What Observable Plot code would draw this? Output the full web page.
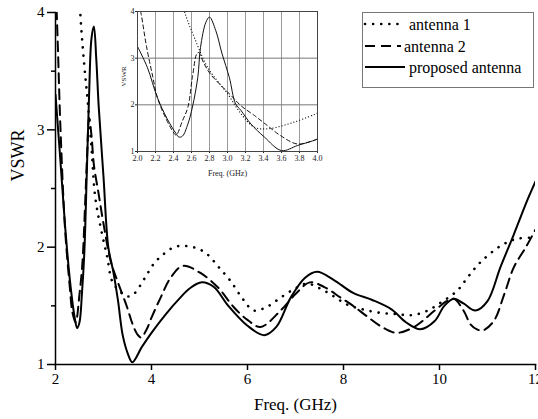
<!DOCTYPE html>
<html><head><meta charset="utf-8">
<script src="https://cdn.jsdelivr.net/npm/d3@7"></script>
<script src="https://cdn.jsdelivr.net/npm/@observablehq/plot@0.6"></script>
<style>
body{margin:0;background:#fff;}
#wrap{position:relative;width:538px;height:419px;font-family:"Liberation Serif","Times New Roman","DejaVu Serif",serif;}
#wrap > svg{position:absolute;left:0;top:0;}
#wrap svg, #wrap svg text{font-family:"Liberation Serif","Times New Roman","DejaVu Serif",serif !important;}
</style></head><body><div id="wrap"></div>
<script>
// ---- main chart data ----
const seriesNames = ["antenna 1", "antenna 2", "proposed antenna"];
const xTicks = [2, 4, 6, 8, 10, 12];
const yTicks = [1, 2, 3, 4];
const yMinorTicks = [1.5, 2.5, 3.5];

const ant1Freq = [2.45,2.52,2.6,2.67,2.75,2.83,2.95,3.08,3.18,3.35,3.5,3.63,3.85,4.05,4.25,4.47,4.7,4.95,5.16,5.4,5.65,5.9,6.13,6.4,6.69,7.0,7.24,7.5,7.8,8.08,8.4,8.77,9.1,9.4,9.7,10.0,10.37,10.6,10.85,11.27,11.6,12.0];
const ant1Vswr = [4.6,3.97,3.55,3.25,2.85,2.42,2.15,1.91,1.71,1.62,1.58,1.6,1.73,1.86,1.94,2.0,2.01,1.99,1.94,1.83,1.71,1.56,1.46,1.49,1.57,1.65,1.69,1.65,1.58,1.51,1.47,1.44,1.43,1.42,1.45,1.52,1.63,1.75,1.87,2.01,2.07,2.08];

const ant2Freq = [2.0,2.05,2.1,2.2,2.3,2.35,2.42,2.5,2.56,2.62,2.66,2.7,2.75,2.8,2.9,3.0,3.15,3.3,3.49,3.6,3.7,3.78,3.9,4.0,4.19,4.4,4.65,5.02,5.4,5.71,6.0,6.27,6.69,7.0,7.3,7.6,7.94,8.2,8.49,8.8,9.1,9.47,9.9,10.15,10.3,10.5,10.65,10.78,10.9,11.13,11.35,11.55,11.8,12.0];
const ant2Vswr = [4.3,3.7,3.05,2.15,1.65,1.45,1.36,1.6,1.86,2.4,2.8,3.1,2.95,2.7,2.45,2.2,1.88,1.7,1.49,1.35,1.26,1.23,1.3,1.4,1.57,1.74,1.84,1.78,1.65,1.49,1.38,1.32,1.46,1.6,1.7,1.66,1.57,1.5,1.41,1.32,1.27,1.32,1.46,1.54,1.56,1.46,1.34,1.3,1.29,1.37,1.6,1.83,2.0,2.15];

const propFreq = [2.0,2.1,2.2,2.3,2.4,2.45,2.5,2.55,2.6,2.65,2.7,2.75,2.8,2.85,2.9,3.0,3.1,3.2,3.3,3.4,3.5,3.6,3.8,4.0,4.3,4.6,4.8,5.05,5.3,5.6,6.0,6.35,6.6,6.9,7.2,7.45,7.8,8.2,8.6,9.0,9.3,9.6,9.9,10.1,10.3,10.5,10.75,11.0,11.27,11.55,11.83,12.0];
const propVswr = [3.3,2.75,2.18,1.72,1.4,1.31,1.36,1.6,1.95,2.6,3.3,3.78,3.88,3.6,3.2,2.6,2.0,1.8,1.55,1.25,1.1,1.02,1.15,1.27,1.43,1.57,1.65,1.7,1.66,1.5,1.33,1.25,1.32,1.57,1.74,1.79,1.72,1.61,1.55,1.47,1.36,1.3,1.37,1.5,1.56,1.52,1.46,1.54,1.83,2.11,2.4,2.56];

// ---- inset data ----
const insetXTicks = [2.0,2.2,2.4,2.6,2.8,3.0,3.2,3.4,3.6,3.8,4.0];
const insetYTicks = [1, 2, 3, 4];
const insetAnt1Freq = [2.45,2.53,2.63,2.78,3.0,3.15,3.3,3.46,3.74,4.0];
const insetAnt1Vswr = [4.5,3.95,3.45,2.8,2.24,1.81,1.52,1.49,1.63,1.82];
const insetAnt2Freq = [2.0,2.04,2.1,2.17,2.22,2.31,2.41,2.43,2.5,2.56,2.61,2.66,2.68,2.74,2.81,2.93,3.04,3.15,3.3,3.44,3.59,3.78,4.0];
const insetAnt2Vswr = [4.3,3.95,3.25,2.6,2.16,1.73,1.38,1.35,1.66,1.95,2.59,3.1,3.12,2.88,2.66,2.41,2.2,1.98,1.77,1.56,1.34,1.16,1.27];
const insetPropFreq = [2.0,2.11,2.22,2.33,2.43,2.46,2.5,2.56,2.61,2.67,2.7,2.76,2.8,2.87,2.94,3.02,3.09,3.15,3.26,3.41,3.6,3.78,3.98,4.0];
const insetPropVswr = [3.25,2.8,2.16,1.7,1.38,1.31,1.33,1.59,1.95,2.59,3.23,3.77,3.88,3.59,3.09,2.59,2.02,1.88,1.59,1.31,1.02,1.13,1.25,1.27];

const toRows = (xs, ys) => xs.map((x, i) => ({x, y: ys[i]}));
const styles = {
  "antenna 1": {strokeDasharray: "0.1,8", strokeWidth: 2.6, strokeLinecap: "round"},
  "antenna 2": {strokeDasharray: "10,6", strokeWidth: 2},
  "proposed antenna": {strokeDasharray: null, strokeWidth: 2}
};
const insetStyles = {
  "antenna 1": {strokeDasharray: "0.1,3", strokeWidth: 1.2, strokeLinecap: "round"},
  "antenna 2": {strokeDasharray: "4,3", strokeWidth: 1},
  "proposed antenna": {strokeDasharray: null, strokeWidth: 1}
};
const mainSeries = [toRows(ant1Freq, ant1Vswr), toRows(ant2Freq, ant2Vswr), toRows(propFreq, propVswr)];
const insetSeries = [toRows(insetAnt1Freq, insetAnt1Vswr), toRows(insetAnt2Freq, insetAnt2Vswr), toRows(insetPropFreq, insetPropVswr)];

const font = "'Liberation Serif', 'Times New Roman', 'DejaVu Serif', serif";
const wrap = document.getElementById("wrap");

const main = Plot.plot({
  width: 538, height: 419,
  marginLeft: 55, marginRight: 3, marginTop: 12, marginBottom: 55,
  style: {fontFamily: font, fontSize: "15px", background: "transparent", color: "black"},
  x: {domain: [2, 12]},
  y: {domain: [1, 4]},
  marks: [
    Plot.axisY({ticks: yTicks, tickFormat: d3.format("d"), tickSize: 8, tickPadding: 3, label: null, strokeWidth: 1.5}),
    Plot.axisY({ticks: yMinorTicks, tickSize: 4, text: null, label: null, strokeWidth: 1.5}),
    Plot.axisX({ticks: xTicks, tickFormat: d3.format("d"), tickSize: 6, tickPadding: 3, label: null, strokeWidth: 1.5}),
    Plot.frame({anchor: "left", strokeWidth: 1.5}),
    Plot.frame({anchor: "bottom", strokeWidth: 1.5}),
    ...mainSeries.map((rows, i) => Plot.line(rows, {x: "x", y: "y", curve: "catmull-rom", clip: true, stroke: "black", ...styles[seriesNames[i]]})),
    Plot.text(["VSWR"], {frameAnchor: "left", dx: -37, dy: -7, rotate: -90, fontSize: 18}),
    Plot.text(["Freq. (GHz)"], {frameAnchor: "bottom", lineAnchor: "middle", dy: 40, fontSize: 17})
  ]
});
wrap.appendChild(main);

const inset = Plot.plot({
  width: 230, height: 185,
  marginLeft: 37, marginRight: 13, marginTop: 11, marginBottom: 34,
  style: {fontFamily: font, fontSize: "8px", background: "transparent", color: "#222"},
  x: {domain: [2, 4]},
  y: {domain: [1, 4]},
  marks: [
    Plot.frame({fill: "white", stroke: null}),
    Plot.gridX({ticks: insetXTicks, stroke: "#999", strokeOpacity: 1, strokeWidth: 1}),
    Plot.gridY({ticks: [2, 3], stroke: "#777", strokeOpacity: 1, strokeWidth: 1}),
    Plot.axisX({ticks: insetXTicks, tickFormat: d3.format(".1f"), tickSize: 2, tickPadding: 2, label: null}),
    Plot.axisY({ticks: insetYTicks, tickFormat: d3.format("d"), tickSize: 2, tickPadding: 1, label: null}),
    ...insetSeries.map((rows, i) => Plot.line(rows, {x: "x", y: "y", curve: "catmull-rom", clip: true, stroke: "#111", ...insetStyles[seriesNames[i]]})),
    Plot.frame({stroke: "#444", strokeWidth: 1}),
    Plot.text(["VSWR"], {frameAnchor: "left", dx: -14, dy: 5, rotate: -90, fontSize: 7}),
    Plot.text(["Freq. (GHz)"], {frameAnchor: "bottom", lineAnchor: "middle", dy: 22, fontSize: 8})
  ]
});
inset.style.left = "100px";
inset.style.top = "0px";
wrap.appendChild(inset);

// ---- legend ----
const leg = d3.create("svg").attr("width", 538).attr("height", 419)
  .style("position", "absolute").style("left", "0px").style("top", "0px");
leg.append("rect").attr("x", 362.5).attr("y", 12.5).attr("width", 171).attr("height", 75)
  .attr("fill", "white").attr("stroke", "#777").attr("stroke-width", 1);
const legRows = [24, 46, 67];
seriesNames.forEach((name, i) => {
  const st = styles[name];
  leg.append("line").attr("x1", 365).attr("x2", i === 1 ? 401 : 405).attr("y1", legRows[i]).attr("y2", legRows[i])
    .attr("stroke", "black").attr("stroke-width", st.strokeWidth)
    .attr("stroke-dasharray", st.strokeDasharray)
    .attr("stroke-linecap", st.strokeLinecap || "butt");
  leg.append("text").attr("x", i === 1 ? 404 : 409).attr("y", legRows[i]).attr("dy", "0.35em")
    .attr("font-family", font).attr("font-size", 16).text(name);
});
wrap.appendChild(leg.node());
</script></body></html>
